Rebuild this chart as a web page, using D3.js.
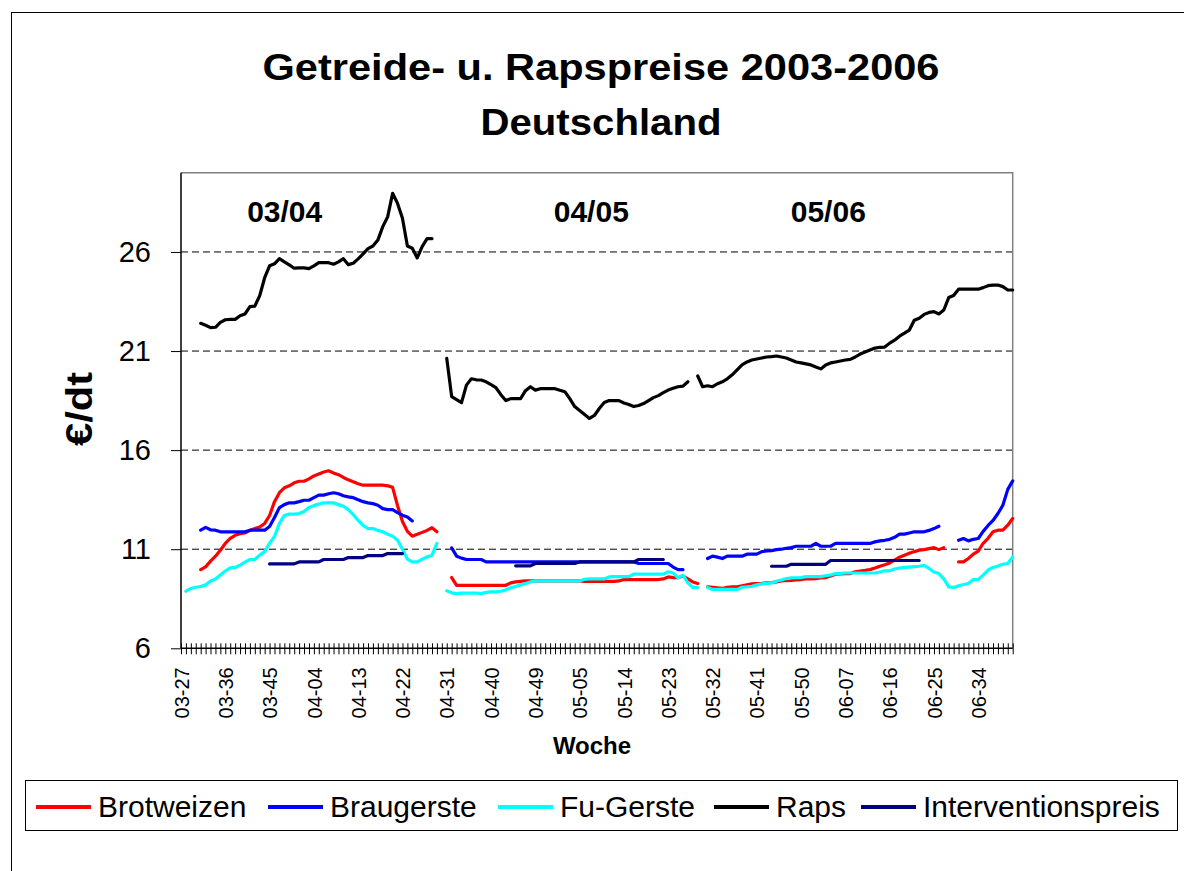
<!DOCTYPE html>
<html><head><meta charset="utf-8">
<script src="https://cdn.jsdelivr.net/npm/d3@7"></script>
<style>
html,body{margin:0;padding:0;background:#fff;}
svg{display:block;font-family:"Liberation Sans",Arial,sans-serif;}
</style></head>
<body>
<svg id="chart" width="1184" height="871"></svg>
<script>
const N = 170;
const tickLabels = ["03-27","03-36","03-45","04-04","04-13","04-22","04-31","04-40","04-49","05-05","05-14","05-23","05-32","05-41","05-50","06-07","06-16","06-25","06-34"];
const seasons = ["03/04","04/05","05/06"];
const yTicks = [6,11,16,21,26];
const seriesNames = ["Brotweizen","Braugerste","Fu-Gerste","Raps","Interventionspreis"];
const seriesColors = ["#FF0000","#0000FF","#00FFFF","#000000","#000080"];

const brotweizen = [
null,null,null,null,9.97,10.11,10.4,10.65,10.95,11.29,
11.55,11.7,11.78,11.82,11.95,12.04,12.12,12.3,12.7,13.4,
13.85,14.1,14.2,14.35,14.43,14.43,14.55,14.7,14.8,14.9,
14.96,14.85,14.76,14.62,14.5,14.4,14.3,14.23,14.23,14.23,
14.23,14.23,14.2,14.12,13.2,12.4,11.9,11.66,11.75,11.85,
11.95,12.09,11.88,null,null,9.57,9.18,9.18,9.18,9.18,
9.18,9.18,9.18,9.18,9.18,9.18,9.18,9.3,9.35,9.38,
9.4,9.4,9.4,9.4,9.4,9.4,9.4,9.4,9.4,9.4,
9.4,9.4,9.38,9.38,9.38,9.38,9.38,9.38,9.38,9.4,
9.47,9.47,9.47,9.47,9.47,9.47,9.47,9.47,9.5,9.6,
9.57,9.57,9.64,9.5,9.35,9.27,null,9.1,9.08,9.05,
9.02,9.08,9.1,9.1,9.15,9.2,9.25,9.27,9.28,9.3,
9.32,9.35,9.4,9.42,9.43,9.45,9.47,9.5,9.5,9.52,
9.55,9.57,9.65,9.74,9.75,9.77,9.77,9.86,9.9,9.93,
9.97,10.05,10.14,10.22,10.31,10.45,10.6,10.7,10.8,10.88,
10.95,10.98,11.03,11.08,10.98,11.08,null,null,10.36,10.36,
10.53,10.75,10.9,11.3,11.55,11.88,11.96,11.96,12.21,12.55];

const braugerste = [
null,null,null,null,11.96,12.1,11.98,11.96,11.88,11.88,
11.88,11.88,11.88,11.88,11.96,11.96,11.96,11.96,12.15,12.6,
13.1,13.25,13.34,13.34,13.4,13.47,13.47,13.6,13.73,13.73,
13.8,13.85,13.8,13.7,13.64,13.6,13.5,13.4,13.34,13.3,
13.22,13.05,13.0,13.0,12.85,12.72,12.63,12.43,null,null,
null,null,null,null,null,11.07,10.65,10.55,10.48,10.48,
10.48,10.48,10.36,10.36,10.36,10.36,10.36,10.36,10.36,10.36,
10.36,10.36,10.36,10.36,10.36,10.36,10.36,10.36,10.36,10.36,
10.36,10.36,10.36,10.36,10.36,10.36,10.36,10.36,10.36,10.36,
10.36,10.36,10.36,10.28,10.28,10.28,10.28,10.28,10.28,10.28,
10.1,9.97,9.97,null,null,null,null,10.53,10.65,10.6,
10.53,10.65,10.65,10.65,10.65,10.75,10.75,10.75,10.88,10.91,
10.93,10.98,11.0,11.05,11.08,11.15,11.15,11.15,11.15,11.29,
11.15,11.15,11.15,11.29,11.29,11.29,11.29,11.29,11.29,11.29,
11.29,11.37,11.42,11.45,11.5,11.6,11.76,11.76,11.82,11.88,
11.88,11.88,11.95,12.04,12.16,null,null,null,11.45,11.54,
11.42,11.5,11.54,11.9,12.2,12.45,12.8,13.22,14.02,14.45];

const fuGerste = [
null,8.88,9.02,9.08,9.12,9.2,9.4,9.5,9.7,9.9,
10.06,10.08,10.2,10.35,10.48,10.48,10.7,10.88,11.3,11.65,
12.3,12.7,12.77,12.77,12.8,12.9,13.1,13.2,13.28,13.34,
13.34,13.34,13.25,13.17,13.0,12.75,12.45,12.2,12.04,12.04,
11.95,11.88,11.75,11.66,11.45,11.0,10.5,10.36,10.36,10.5,
10.61,10.7,11.29,null,8.9,8.8,8.76,8.78,8.78,8.78,
8.78,8.76,8.82,8.85,8.85,8.88,8.95,9.05,9.12,9.2,
9.27,9.35,9.4,9.4,9.4,9.4,9.4,9.4,9.4,9.4,
9.4,9.4,9.48,9.5,9.5,9.5,9.5,9.6,9.62,9.62,
9.62,9.62,9.74,9.74,9.74,9.74,9.74,9.74,9.74,9.86,
9.8,9.55,9.69,9.3,9.07,9.07,null,9.07,8.97,8.97,
8.97,8.97,8.97,8.97,9.08,9.1,9.13,9.2,9.25,9.28,
9.3,9.38,9.45,9.52,9.55,9.56,9.57,9.62,9.62,9.62,
9.62,9.66,9.7,9.77,9.78,9.8,9.8,9.8,9.8,9.8,
9.8,9.8,9.85,9.91,9.91,10.0,10.05,10.08,10.1,10.12,
10.14,10.19,10.03,9.85,9.77,9.5,9.1,9.07,9.15,9.22,
9.27,9.47,9.47,9.69,9.95,10.08,10.15,10.24,10.28,10.61];

const raps = [
null,null,null,null,22.4,22.3,22.18,22.2,22.45,22.58,
22.6,22.6,22.78,22.87,23.24,23.27,23.8,24.7,25.3,25.4,
25.66,25.5,25.35,25.18,25.2,25.2,25.16,25.3,25.46,25.46,
25.46,25.38,25.5,25.66,25.36,25.43,25.65,25.9,26.17,26.3,
26.6,27.28,27.78,28.96,28.45,27.7,26.3,26.19,25.7,26.27,
26.67,26.67,null,null,20.63,18.7,18.55,18.4,19.28,19.6,
19.55,19.54,19.45,19.3,19.15,18.8,18.5,18.6,18.6,18.6,
19.0,19.2,19.03,19.1,19.1,19.1,19.1,19.02,18.95,18.6,
18.2,18.0,17.8,17.6,17.75,18.1,18.4,18.5,18.5,18.5,
18.38,18.3,18.2,18.25,18.35,18.5,18.65,18.75,18.9,19.03,
19.12,19.2,19.23,19.45,null,19.74,19.2,19.25,19.2,19.35,
19.45,19.6,19.8,20.05,20.3,20.45,20.55,20.6,20.65,20.7,
20.72,20.75,20.7,20.65,20.55,20.45,20.4,20.35,20.3,20.2,
20.1,20.3,20.4,20.45,20.5,20.55,20.58,20.7,20.85,20.95,
21.05,21.15,21.19,21.2,21.4,21.55,21.75,21.9,22.06,22.55,
22.65,22.85,22.95,22.99,22.87,23.07,23.7,23.8,24.12,24.12,
24.12,24.12,24.12,24.2,24.3,24.33,24.33,24.25,24.08,24.08];

const interventionspreis = [
null,null,null,null,null,null,null,null,null,null,
null,null,null,null,null,null,null,null,10.26,10.26,
10.26,10.26,10.26,10.26,10.36,10.36,10.36,10.36,10.36,10.48,
10.48,10.48,10.48,10.48,10.58,10.58,10.58,10.58,10.68,10.68,
10.68,10.68,10.78,10.78,10.78,10.78,null,null,null,null,
null,null,null,null,null,null,null,null,null,null,
null,null,null,null,null,null,null,null,10.16,10.16,
10.16,10.16,10.28,10.28,10.28,10.28,10.28,10.28,10.28,10.28,
10.28,10.36,10.36,10.36,10.36,10.36,10.36,10.36,10.36,10.36,
10.36,10.36,10.36,10.48,10.48,10.48,10.48,10.48,10.48,null,
null,null,null,null,null,null,null,null,null,null,
null,null,null,null,null,null,null,null,null,null,
10.14,10.14,10.14,10.14,10.24,10.24,10.24,10.24,10.24,10.24,
10.24,10.24,10.43,10.43,10.43,10.43,10.43,10.43,10.43,10.43,
10.43,10.43,10.43,10.43,10.43,10.43,10.43,10.43,10.43,10.43,
10.43,null,null,null,null,null,null,null,null,null,
null,null,null,null,null,null,null,null,null,null];

const seriesData = [brotweizen, braugerste, fuGerste, raps, interventionspreis];

const svg = d3.select("#chart");
const pLeft = 181, pRight = 1012.7, pTop = 172.7, pBottom = 648.3;

// outer frame
svg.append("rect").attr("x",11.5).attr("y",12.5).attr("width",1190).attr("height",880)
  .attr("fill","#fff").attr("stroke","#000").attr("stroke-width",1);

const x = d3.scaleLinear().domain([0, N-1]).range([pLeft, pRight]);
const y = d3.scaleLinear().domain([6, 30]).range([pBottom, pTop]);

// gridlines
svg.append("g").selectAll("line").data(yTicks.filter(v => v > 6)).join("line")
  .attr("x1", pLeft).attr("x2", pRight)
  .attr("y1", d => y(d)).attr("y2", d => y(d))
  .attr("stroke","#000").attr("stroke-width",1).attr("stroke-dasharray","7,4");

// plot border top/right
svg.append("path").attr("d", `M${pLeft},${pTop}H${pRight}V${pBottom}`)
  .attr("fill","none").attr("stroke","#808080").attr("stroke-width",1.5);

// title
svg.append("text").attr("x",601).attr("y",80).attr("text-anchor","middle")
  .attr("font-size",36).attr("font-weight","bold")
  .attr("textLength",677).attr("lengthAdjust","spacingAndGlyphs")
  .text("Getreide- u. Rapspreise 2003-2006");
svg.append("text").attr("x",601).attr("y",135).attr("text-anchor","middle")
  .attr("font-size",36).attr("font-weight","bold")
  .attr("textLength",241).attr("lengthAdjust","spacingAndGlyphs").text("Deutschland");

// season labels
const seasonX = [284.7, 591.3, 828.3];
svg.append("g").selectAll("text").data(seasons).join("text")
  .attr("x",(d,i)=>seasonX[i]).attr("y",221.5).attr("text-anchor","middle")
  .attr("font-size",30).attr("font-weight","bold").text(d=>d);

// y axis
const yAxis = d3.axisLeft(y).tickValues(yTicks).tickSize(10).tickPadding(20).tickFormat(d3.format("d"));
const gy = svg.append("g").attr("transform",`translate(${pLeft},0)`).call(yAxis);
gy.select(".domain").attr("stroke","#000").attr("stroke-width",1.5).attr("d",`M0,${pTop}V${pBottom}`);
gy.selectAll(".tick line").attr("stroke","#000");
gy.selectAll(".tick text").attr("font-size",29).attr("font-family","Liberation Sans, Arial, sans-serif").attr("fill","#000");

// x axis
const xAxis = d3.axisBottom(x).tickValues(d3.range(N)).tickSize(6)
  .tickFormat(i => (i % 9 === 0 && tickLabels[i/9] !== undefined) ? tickLabels[i/9] : "");
const gx = svg.append("g").attr("transform",`translate(0,${pBottom})`).call(xAxis);
gx.select(".domain").attr("stroke","#000").attr("stroke-width",1.5).attr("d",`M${pLeft},0H${pRight}`);
gx.selectAll(".tick line").attr("y1",-5).attr("y2",6).attr("stroke","#000").attr("stroke-width",1);
gx.selectAll(".tick text")
  .attr("transform","rotate(-90)").attr("text-anchor","end")
  .attr("x",-19).attr("y",0).attr("dy","0.36em")
  .attr("font-size",20).attr("font-family","Liberation Sans, Arial, sans-serif").attr("fill","#000");

// axis titles
svg.append("text").attr("transform","translate(92,409) rotate(-90)").attr("text-anchor","middle")
  .attr("font-size",36).attr("font-weight","bold")
  .attr("textLength",74).attr("lengthAdjust","spacingAndGlyphs").text("€/dt");
svg.append("text").attr("x",592).attr("y",754).attr("text-anchor","middle")
  .attr("font-size",24).attr("font-weight","bold").text("Woche");

// series lines
const lineGen = arr => d3.line().defined(i => arr[i] != null).x(i => x(i)).y(i => y(arr[i]))(d3.range(N));
svg.append("g").selectAll("path").data(seriesData).join("path")
  .attr("d", d => lineGen(d))
  .attr("fill","none").attr("stroke",(d,i)=>seriesColors[i])
  .attr("stroke-width",3.2).attr("stroke-linejoin","round").attr("stroke-linecap","round");

// legend
svg.append("rect").attr("x",25.5).attr("y",780.5).attr("width",1152).attr("height",50)
  .attr("fill","#fff").attr("stroke","#000").attr("stroke-width",1);
const legX = [36, 268, 498, 714, 861];
const leg = svg.append("g").selectAll("g").data(seriesNames).join("g")
  .attr("transform",(d,i)=>`translate(${legX[i]},0)`);
leg.append("line").attr("x1",0).attr("x2",55).attr("y1",807).attr("y2",807)
  .attr("stroke",(d,i)=>seriesColors[i]).attr("stroke-width",4);
leg.append("text").attr("x",62).attr("y",817).attr("font-size",30).text(d=>d);
</script>
</body></html>
